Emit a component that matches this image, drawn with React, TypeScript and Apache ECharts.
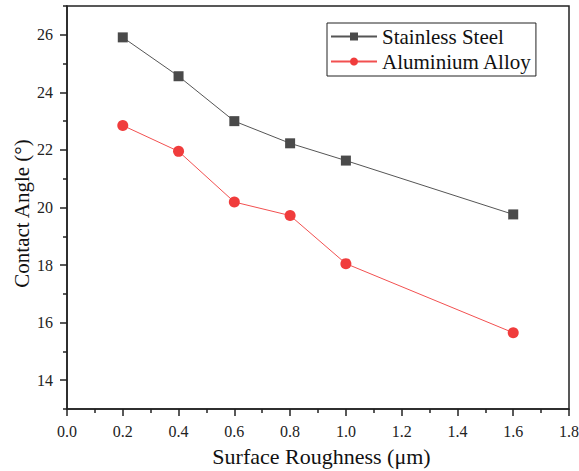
import React, { useEffect, useRef } from "react";
import * as echarts from "echarts";

const roughness = [0.2, 0.4, 0.6, 0.8, 1.0, 1.6];
const stainlessSteel = [25.91, 24.56, 23.0, 22.23, 21.63, 19.76];
const aluminiumAlloy = [22.85, 21.95, 20.19, 19.72, 18.05, 15.65];
const seriesNames = ["Stainless Steel", "Aluminium Alloy"];

const FONT = "Liberation Serif";

export default function App() {
  const ref = useRef<HTMLDivElement>(null);
  useEffect(() => {
    if (!ref.current) return;
    const chart = echarts.init(ref.current, undefined, { renderer: "svg" });
    const pair = (vals: number[]) => roughness.map((x, i) => [x, vals[i]]);
    chart.setOption({
      animation: false,
      backgroundColor: "#ffffff",
      textStyle: { fontFamily: FONT },
      grid: {
        left: 67,
        right: 10,
        top: 6,
        bottom: 62,
        containLabel: false,
        outerBoundsMode: "none",
        show: true,
        borderColor: "#222",
        borderWidth: 1.5,
      },
      legend: {
        orient: "vertical",
        left: 327,
        top: 23,
        itemWidth: 46,
        itemHeight: 10,
        itemGap: 4,
        padding: [3, 4, 4, 3],
        borderColor: "#222",
        borderWidth: 1,
        borderRadius: 0,
        textStyle: { fontFamily: FONT, fontSize: 21, color: "#111" },
        data: seriesNames,
      },
      xAxis: {
        type: "value",
        min: 0,
        max: 1.8,
        interval: 0.2,
        name: "Surface Roughness (μm)",
        nameLocation: "middle",
        nameGap: 36,
        nameTextStyle: { fontFamily: FONT, fontSize: 22, color: "#111", padding: [0, 0, 0, 7] },
        axisLine: { show: true, lineStyle: { color: "#222", width: 1.5 } },
        axisTick: { show: true, inside: false, length: 7, lineStyle: { color: "#222", width: 1.5 } },
        minorTick: { show: true, splitNumber: 2, length: 4, lineStyle: { color: "#222", width: 1.5 } },
        splitLine: { show: false },
        axisLabel: {
          fontFamily: FONT,
          fontSize: 16,
          color: "#222",
          margin: 14,
          formatter: (v: number) => v.toFixed(1),
        },
      },
      yAxis: [
        {
          type: "value",
          min: 13,
          max: 27,
          interval: 2,
          axisLine: { show: true, lineStyle: { color: "#222", width: 1.5 } },
          axisTick: { show: true, length: 4, lineStyle: { color: "#222", width: 1.5 } },
          minorTick: { show: true, splitNumber: 2, length: 7, lineStyle: { color: "#222", width: 1.5 } },
          splitLine: { show: false },
          axisLabel: { show: false },
        },
        {
          type: "value",
          min: 13,
          max: 27,
          interval: 1,
          position: "left",
          name: "Contact Angle (°)",
          nameLocation: "middle",
          nameGap: 35,
          nameMoveOverlap: false,
          nameTextStyle: { fontFamily: FONT, fontSize: 21, color: "#111", padding: [0, 12, 0, 0] },
          axisLine: { show: false },
          axisTick: { show: false },
          splitLine: { show: false },
          axisLabel: {
            fontFamily: FONT,
            fontSize: 16,
            color: "#222",
            margin: 14,
            formatter: (v: number) => (Math.round(v) % 2 === 0 && v > 13 && v < 27 ? String(Math.round(v)) : ""),
          },
        },
      ],
      series: [
        {
          name: seriesNames[0],
          type: "line",
          data: pair(stainlessSteel),
          symbol: "rect",
          symbolSize: 10,
          itemStyle: { color: "#4a4a4a" },
          lineStyle: { color: "#555", width: 1 },
        },
        {
          name: seriesNames[1],
          type: "line",
          data: pair(aluminiumAlloy),
          symbol: "circle",
          symbolSize: 11,
          itemStyle: { color: "#f03c3c" },
          lineStyle: { color: "#f25050", width: 1 },
        },
      ],
    });
    return () => chart.dispose();
  }, []);
  return <div ref={ref} style={{ width: 579, height: 471, position: "absolute", left: 0, top: 0 }} />;
}
